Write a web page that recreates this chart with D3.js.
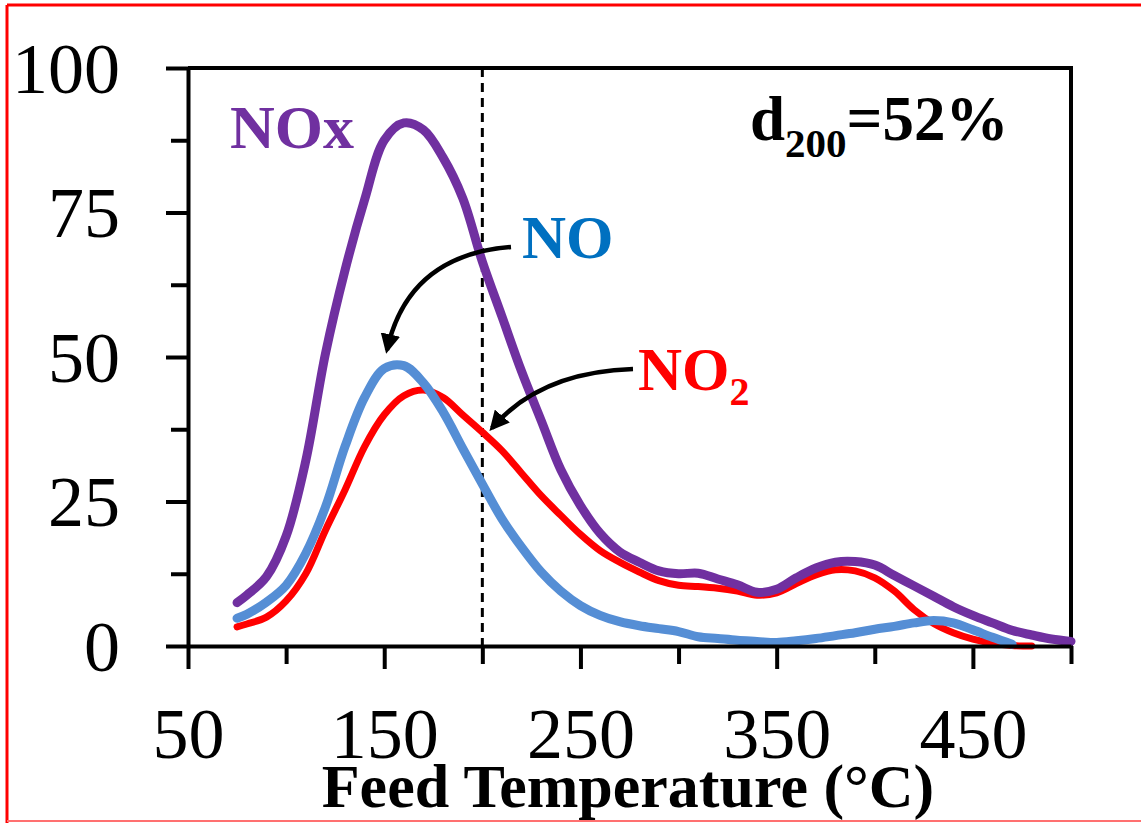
<!DOCTYPE html>
<html>
<head>
<meta charset="utf-8">
<script src="https://cdn.jsdelivr.net/npm/d3@7"></script>
<style>
  html, body { margin: 0; padding: 0; background: #fff; }
  svg { display: block; }
  text { font-family: "Liberation Serif", "Times New Roman", serif; }
</style>
</head>
<body>
<svg id="chart"></svg>
<script>
// feed temperature grid (°C)
const temps = [75, 80, 90, 100, 110, 120, 130, 140, 150, 160, 170, 180, 190, 200, 210, 220, 230, 240, 250, 260,
  270, 280, 290, 300, 310, 320, 330, 340, 350, 360, 370, 380, 390, 400, 410, 420, 430, 440, 450, 460,
  470, 480, 490, 500];

// NOx released (purple)
const noxValues = [7.5, 8.8, 12, 19, 32, 50.5, 65, 77.2, 87.5, 90.5, 89.3, 84.5, 77.5, 66.5, 57, 47.5, 39, 30.5, 24.3, 19.5,
  16.3, 14.5, 13, 12.5, 12.6, 11.6, 10.6, 9.3, 9.8, 11.8, 13.5, 14.5, 14.6, 14, 12.2, 10.4, 8.6, 6.8, 5.3, 4,
  2.7, 1.9, 1.2, 0.8];

// NO (blue)
const noValues = [4.8, 5.5, 7.6, 10.5, 16, 24, 34.5, 43, 48, 48.5, 45.5, 40.5, 34.2, 28, 22, 17.1, 12.8, 9.5, 7, 5.3,
  4.2, 3.5, 3, 2.5, 1.6, 1.3, 1, 0.8, 0.6, 0.9, 1.3, 1.8, 2.3, 2.9, 3.4, 4, 4.4, 4, 2.8, 1.5,
  0.3, null, null, null];

// NO2 (red)
const no2Values = [3.3, 3.8, 5, 7.8, 12.5, 20, 27, 34.5, 40, 43.3, 44.3, 43, 40, 37, 33.8, 29.9, 26, 22.6, 19.3, 16.5,
  14.5, 12.8, 11.3, 10.5, 10.3, 10, 9.5, 8.8, 9.2, 10.8, 12.3, 13.2, 13, 11.8, 9.5, 6.3, 3.9, 2.3, 1.2, 0.5,
  0.1, 0, null, null];

const xTicks = [50, 100, 150, 200, 250, 300, 350, 400, 450, 500];
const xLabels = [50, 150, 250, 350, 450];
const yTicks = [0, 12.5, 25, 37.5, 50, 62.5, 75, 87.5, 100];
const yLabels = [0, 25, 50, 75, 100];

const width = 1141, height = 823;
const margin = { top: 68, right: 70, bottom: 177, left: 188 };

const svg = d3.select('#chart')
  .attr('width', width)
  .attr('height', height);

// red picture border
svg.append('line').attr('x1', 7).attr('y1', 5).attr('x2', width).attr('y2', 5)
  .attr('stroke', '#ff0000').attr('stroke-width', 3);
svg.append('line').attr('x1', 7).attr('y1', 5).attr('x2', 7).attr('y2', height)
  .attr('stroke', '#ff0000').attr('stroke-width', 3);
svg.append('line').attr('x1', 7).attr('y1', 821).attr('x2', width).attr('y2', 821)
  .attr('stroke', '#ff7070').attr('stroke-width', 2);

// scales
const x = d3.scaleLinear().domain([50, 500]).range([margin.left, width - margin.right]);
const y = d3.scaleLinear().domain([0, 100]).range([height - margin.bottom, margin.top]);

// frame (top and right)
svg.append('path')
  .attr('d', `M${x(50)},${y(100)}H${x(500)}V${y(0)}`)
  .attr('fill', 'none').attr('stroke', '#000').attr('stroke-width', 4);

// dashed d200 line
svg.append('line')
  .attr('x1', x(200)).attr('x2', x(200))
  .attr('y1', y(100)).attr('y2', y(0))
  .attr('stroke', '#000').attr('stroke-width', 3).attr('stroke-dasharray', '9,6');

// series lines
const series = [
  { name: 'NO2', values: no2Values, color: '#ff0000', w: 7 },
  { name: 'NO', values: noValues, color: '#558ed5', w: 9 },
  { name: 'NOx', values: noxValues, color: '#7030a0', w: 9 }
];

const line = d3.line()
  .defined(d => d.v !== null)
  .x(d => x(d.t))
  .y(d => y(d.v))
  .curve(d3.curveCatmullRom.alpha(0.5));

series.forEach(s => {
  const pts = temps.map((t, i) => ({ t: t, v: s.values[i] }));
  svg.append('path')
    .datum(pts)
    .attr('d', line)
    .attr('fill', 'none')
    .attr('stroke', s.color)
    .attr('stroke-width', s.w)
    .attr('stroke-linejoin', 'round')
    .attr('stroke-linecap', 'round');
});

// x axis
const xAxis = d3.axisBottom(x)
  .tickValues(xTicks)
  .tickSize(18)
  .tickSizeOuter(0)
  .tickFormat(d => xLabels.includes(d) ? d : '');

const gx = svg.append('g')
  .attr('transform', `translate(0, ${y(0)})`)
  .call(xAxis);
gx.select('.domain').attr('stroke-width', 4).attr('stroke', '#000');
gx.selectAll('.tick line')
  .attr('stroke-width', 4)
  .attr('y2', d => xLabels.includes(d) ? 23 : 18);
gx.selectAll('.tick text')
  .attr('y', 112).attr('dy', 0)
  .attr('font-size', 72)
  .attr('font-family', '"Liberation Serif", serif')
  .attr('fill', '#000');

// y axis
const yAxis = d3.axisLeft(y)
  .tickValues(yTicks)
  .tickSize(17)
  .tickSizeOuter(0)
  .tickFormat(d => yLabels.includes(d) ? d : '');

const gy = svg.append('g')
  .attr('transform', `translate(${x(50)}, 0)`)
  .call(yAxis);
gy.select('.domain').attr('stroke-width', 4).attr('stroke', '#000');
gy.selectAll('.tick line')
  .attr('stroke-width', 4)
  .attr('x2', d => yLabels.includes(d) ? -22 : -17);
gy.selectAll('.tick text')
  .attr('x', -68).attr('dy', 24)
  .attr('font-size', 72)
  .attr('font-family', '"Liberation Serif", serif')
  .attr('fill', '#000');

// axis title
svg.append('text')
  .attr('x', 628).attr('y', 807)
  .attr('text-anchor', 'middle')
  .attr('font-size', 62).attr('font-weight', 'bold')
  .text('Feed Temperature (°C)');

// series labels
svg.append('text')
  .attr('x', 230).attr('y', 148)
  .attr('font-size', 62).attr('font-weight', 'bold').attr('fill', '#7030a0')
  .text('NOx');

svg.append('text')
  .attr('x', 522).attr('y', 258)
  .attr('font-size', 61).attr('font-weight', 'bold').attr('fill', '#0070c0')
  .text('NO');

const no2Label = svg.append('text')
  .attr('x', 638).attr('y', 390)
  .attr('font-size', 61).attr('font-weight', 'bold').attr('fill', '#ff0000');
no2Label.append('tspan').text('NO');
no2Label.append('tspan').attr('dy', 15).attr('font-size', 40).text('2');

const dLabel = svg.append('text')
  .attr('x', 750).attr('y', 140)
  .attr('font-size', 63).attr('font-weight', 'bold').attr('fill', '#000');
dLabel.append('tspan').text('d');
dLabel.append('tspan').attr('dy', 17).attr('font-size', 41).text('200');
dLabel.append('tspan').attr('dy', -17).text('=52%');

// arrows
svg.append('defs').append('marker')
  .attr('id', 'head')
  .attr('viewBox', '0 0 10 10')
  .attr('refX', 8).attr('refY', 5)
  .attr('markerWidth', 4.4).attr('markerHeight', 4.4)
  .attr('orient', 'auto')
  .append('path')
  .attr('d', 'M0,0L10,5L0,10z')
  .attr('fill', '#000');

svg.append('path')
  .attr('d', 'M511,247 Q408,255 387,350')
  .attr('fill', 'none').attr('stroke', '#000').attr('stroke-width', 4.5)
  .attr('marker-end', 'url(#head)');

svg.append('path')
  .attr('d', 'M633,369 Q540,372 492,428')
  .attr('fill', 'none').attr('stroke', '#000').attr('stroke-width', 4.5)
  .attr('marker-end', 'url(#head)');
</script>
</body>
</html>
